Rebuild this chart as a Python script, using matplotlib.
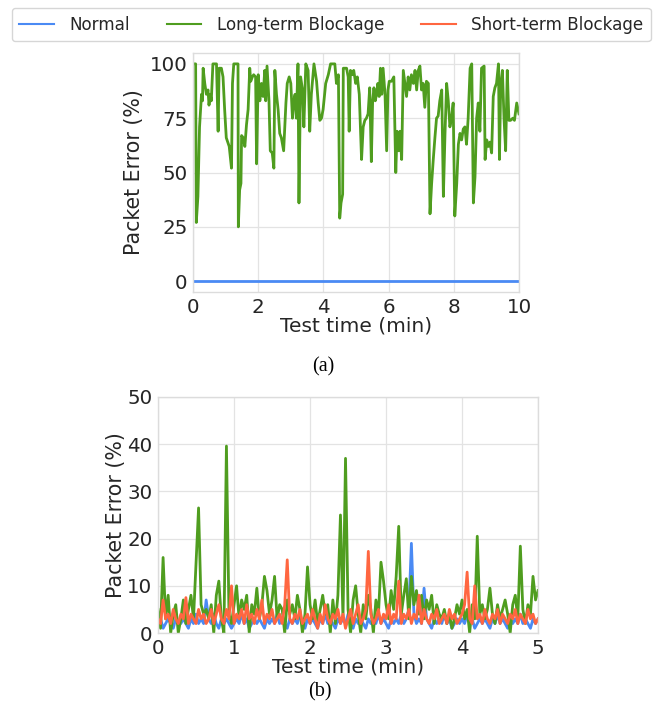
import numpy as np
import matplotlib
matplotlib.use("Agg")
import matplotlib.pyplot as plt

# -----------------------------
# Data
# -----------------------------
series_names = ["Normal", "Long-term Blockage", "Short-term Blockage"]
series_colors = ["#4a8af4", "#4f9d1f", "#ff6640"]

# panel (a): 10 minute test
normal_a_time = [0, 2, 4, 6, 8, 10]
normal_a = [0, 0, 0, 0, 0, 0]

long_a_time = [
    0.00, 0.08, 0.10, 0.15, 0.20, 0.26, 0.29, 0.31, 0.36, 0.41, 0.46, 0.49, 0.53, 0.56, 0.61,
    0.72, 0.77, 0.80, 0.87, 0.92, 0.97, 1.02, 1.11, 1.18, 1.21, 1.25, 1.38, 1.39, 1.43, 1.47,
    1.49, 1.54, 1.59, 1.64, 1.69, 1.74, 1.77, 1.82, 1.86, 1.92, 1.95, 2.00, 2.05, 2.10, 2.15,
    2.20, 2.23, 2.27, 2.33, 2.37, 2.43, 2.48, 2.51, 2.56, 2.61, 2.66, 2.71, 2.78, 2.85, 2.89,
    2.95, 3.00, 3.05, 3.09, 3.13, 3.17, 3.22, 3.25, 3.30, 3.36, 3.40, 3.46, 3.53, 3.58, 3.63,
    3.71, 3.79, 3.84, 3.89, 3.94, 3.99, 4.07, 4.15, 4.22, 4.35, 4.40, 4.46, 4.50, 4.54, 4.59,
    4.61, 4.71, 4.76, 4.79, 4.83, 4.89, 4.93, 4.99, 5.04, 5.10, 5.17, 5.22, 5.27, 5.32, 5.37,
    5.42, 5.47, 5.51, 5.55, 5.59, 5.63, 5.67, 5.71, 5.75, 5.79, 5.83, 5.89, 5.94, 5.98, 6.02,
    6.09, 6.16, 6.22, 6.26, 6.31, 6.35, 6.40, 6.45, 6.50, 6.55, 6.60, 6.65, 6.70, 6.76, 6.81,
    6.86, 6.91, 6.96, 7.01, 7.06, 7.11, 7.16, 7.22, 7.27, 7.32, 7.37, 7.42, 7.47, 7.52, 7.57,
    7.63, 7.68, 7.73, 7.78, 7.83, 7.88, 7.93, 7.98, 8.03, 8.09, 8.14, 8.19, 8.24, 8.29, 8.34,
    8.39, 8.44, 8.50, 8.55, 8.60, 8.65, 8.70, 8.75, 8.80, 8.85, 8.93, 8.96, 9.01, 9.06, 9.11,
    9.16, 9.21, 9.26, 9.31, 9.37, 9.40, 9.44, 9.49, 9.54, 9.59, 9.64, 9.69, 9.74, 9.81, 9.86,
    9.93, 10.00,
]
long_a = [
    100, 100, 27, 39, 71, 86, 83, 98, 91, 86, 88, 81, 86, 83, 100,
    100, 69, 98, 98, 94, 79, 66, 62, 52, 91, 100, 100, 25, 42, 45,
    67, 66, 62, 72, 79, 98, 92, 94, 95, 94, 54, 95, 83, 91, 85,
    97, 83, 99, 83, 60, 59, 52, 97, 86, 79, 68, 66, 60, 82, 91,
    94, 91, 75, 83, 86, 75, 100, 36, 94, 88, 71, 100, 97, 69, 86,
    100, 92, 82, 74, 75, 79, 91, 95, 100, 100, 91, 95, 29, 36, 40,
    98, 98, 94, 69, 97, 95, 97, 91, 94, 86, 56, 71, 74, 75, 77,
    89, 55, 83, 89, 83, 86, 91, 85, 98, 86, 98, 86, 60, 88, 92,
    92, 94, 50, 69, 60, 69, 56, 97, 91, 85, 94, 88, 95, 91, 97,
    88, 97, 99, 88, 91, 80, 92, 91, 31, 45, 56, 66, 75, 76, 83,
    88, 39, 68, 91, 83, 71, 75, 82, 30, 45, 63, 68, 65, 70, 71,
    63, 75, 98, 100, 36, 48, 75, 82, 69, 98, 99, 56, 65, 62, 64,
    59, 85, 89, 91, 100, 56, 91, 97, 75, 60, 97, 74, 74, 75, 74,
    82, 77,
]

# panel (b): 5 minute test, one sample every 2 s
normal_b = [
    2, 3, 1, 2, 3, 2, 1, 3, 2, 2,
    3, 2, 1, 3, 2, 4, 2, 3, 2, 7,
    3, 2, 4, 2, 1, 3, 2, 3, 2, 1,
    2, 3, 2, 4, 2, 3, 1, 2, 3, 2,
    3, 2, 1, 3, 2, 3, 2, 4, 2, 3,
    2, 1, 3, 2, 3, 2, 4, 2, 1, 3,
    2, 3, 2, 1, 3, 2, 4, 2, 3, 2,
    1, 3, 2, 3, 2, 4, 2, 1, 3, 2,
    3, 2, 1, 3, 2, 3, 2, 4, 2, 3,
    2, 1, 3, 2, 3, 2, 4, 2, 3, 5,
    19, 4, 2, 3, 2, 9.5, 3, 2, 1, 3,
    2, 3, 2, 4, 2, 3, 1, 2, 3, 2,
    3, 2, 4, 2, 3, 1, 2, 3, 2, 3,
    2, 1, 3, 2, 4, 2, 3, 2, 1, 3,
    2, 3, 2, 4, 2, 3, 2, 1, 3, 2,
    3,
]
long_b = [
    5, 1, 16, 3, 8, 0, 4, 6, 0, 3,
    7, 2, 5, 8, 3, 15, 26.5, 6, 4, 5,
    3, 6, 0, 8, 11, 3, 0, 39.6, 4, 2,
    6, 10, 3, 7, 5, 8, 0, 6, 4, 9.5,
    3, 6, 12, 9, 4, 7, 12, 3, 6, 5,
    0, 7, 4, 6, 3, 8, 5, 0, 4, 14,
    6, 3, 7, 2, 5, 8, 4, 6, 0, 7,
    2, 8, 25, 3, 37, 5, 0, 7, 10, 4,
    0, 6, 3, 8, 5, 0, 7, 4, 15, 11,
    6, 3, 9, 5, 12, 22.6, 4, 8, 11.5, 3,
    12, 6, 9, 4, 8, 3, 7, 5, 8, 2,
    6, 4, 3, 5, 2, 4, 1, 3, 6, 4,
    7, 3, 5, 0, 6, 3, 20.5, 4, 6, 3,
    5, 9.5, 4, 2, 6, 3, 5, 7, 4, 0,
    6, 8, 3, 18.4, 5, 2, 6, 4, 12, 7,
    9,
]
short_b = [
    3, 2, 7, 3, 4, 2, 5, 3, 2, 4,
    3, 7.5, 2, 4, 3, 2, 5, 3, 4, 2,
    3, 5, 2, 4, 6, 3, 2, 5, 3, 10,
    2, 4, 3, 5, 2, 6, 3, 4, 2, 5,
    3, 7, 2, 4, 3, 5, 2, 3, 4, 2,
    6, 15.5, 3, 2, 4, 3, 5, 2, 3, 4,
    2, 5, 3, 1, 4, 2, 6, 3, 2, 4,
    3, 5, 2, 4, 1, 3, 5, 2, 4, 6,
    2, 3, 5, 17.3, 4, 2, 3, 5, 2, 4,
    3, 6, 2, 4, 3, 11, 2, 4, 3, 5,
    2, 4, 3, 8, 2, 5, 3, 2, 4, 3,
    5, 2, 3, 4, 2, 5, 3, 4, 2, 3,
    4, 6, 12.9, 3, 2, 10, 3, 4, 2, 5,
    3, 2, 4, 3, 5, 2, 4, 3, 2, 4,
    3, 5, 2, 4, 3, 2, 5, 3, 4, 2,
    3,
]
time_b = np.linspace(0, 5, len(long_b))

# -----------------------------
# Style
# -----------------------------
plt.rcParams["font.family"] = "DejaVu Sans"
text_color = "#262626"
grid_color = "#e3e3e3"


def style_axes(ax):
    for s in ax.spines.values():
        s.set_color("#dcdcdc")
        s.set_linewidth(1.0)
    ax.grid(True, color=grid_color, linewidth=0.9)
    ax.set_axisbelow(True)
    ax.tick_params(length=0, labelsize=14.3, colors=text_color, pad=4)


fig = plt.figure(figsize=(6.53, 7.05), dpi=100)

# -----------------------------
# Panel (a)
# -----------------------------
ax1 = fig.add_axes([0.2956, 0.5858, 0.4992, 0.339])
ax1.plot(normal_a_time, normal_a, color=series_colors[0], lw=2)
ax1.plot(long_a_time, long_a, color=series_colors[1], lw=2)
ax1.set_xlim(0, 10)
ax1.set_ylim(-5, 105)
ax1.set_xticks([0, 2, 4, 6, 8, 10])
ax1.set_yticks([0, 25, 50, 75, 100])
ax1.set_xlabel("Test time (min)", fontsize=14.5, color=text_color, labelpad=0)
ax1.set_ylabel("Packet Error (%)", fontsize=14.8, color=text_color, labelpad=4)
style_axes(ax1)
fig.text(0.495, 0.480, "(a)", ha="center", va="center", fontsize=14.5,
         family="Liberation Serif", color="black")

# -----------------------------
# Panel (b)
# -----------------------------
ax2 = fig.add_axes([0.242, 0.1021, 0.582, 0.3348])
ax2.plot(time_b, normal_b, color=series_colors[0], lw=2)
ax2.plot(time_b, long_b, color=series_colors[1], lw=2)
ax2.plot(time_b, short_b, color=series_colors[2], lw=2)
ax2.set_xlim(0, 5)
ax2.set_ylim(0, 50)
ax2.set_xticks([0, 1, 2, 3, 4, 5])
ax2.set_yticks([0, 10, 20, 30, 40, 50])
ax2.set_xlabel("Test time (min)", fontsize=14.5, color=text_color, labelpad=0)
ax2.set_ylabel("Packet Error (%)", fontsize=14.8, color=text_color, labelpad=1)
style_axes(ax2)
fig.text(0.49, 0.019, "(b)", ha="center", va="center", fontsize=14.5,
         family="Liberation Serif", color="black")

# -----------------------------
# Shared legend
# -----------------------------
handles = [plt.Line2D([], [], color=c, lw=1.5) for c in series_colors]
leg = fig.legend(handles, series_names, loc="center", ncol=3,
                 bbox_to_anchor=(0.507, 0.965), fontsize=12.1,
                 frameon=True, fancybox=True, handlelength=2.07,
                 handletextpad=0.9, columnspacing=2.2, borderpad=0.45)
leg.get_frame().set_edgecolor("#cccccc")
for t in leg.get_texts():
    t.set_color(text_color)

plt.savefig("out.png", dpi=100)
